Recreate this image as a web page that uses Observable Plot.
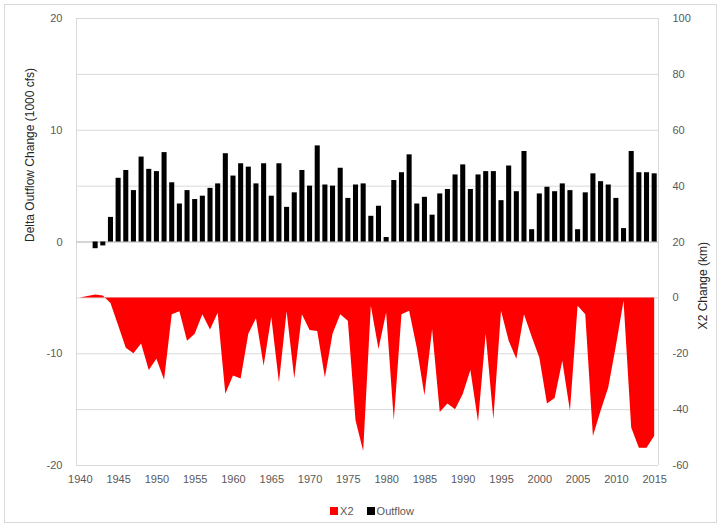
<!DOCTYPE html>
<html>
<head>
<meta charset="utf-8">
<script src="https://cdn.jsdelivr.net/npm/d3@7"></script>
<script src="https://cdn.jsdelivr.net/npm/@observablehq/plot@0.6"></script>
<style>
  html, body { margin: 0; padding: 0; background: #fff; }
  #wrap { position: relative; width: 723px; height: 529px; font-family: "Liberation Sans", Arial, sans-serif; }
  #border { position: absolute; left: 4px; top: 4px; width: 713px; height: 519px; border: 1px solid #d9d9d9; box-sizing: border-box; }
  #chart { position: absolute; left: 0; top: 0; }
  #legend { position: absolute; top: 505px; left: 0; width: 744px; text-align: center; font-size: 11px; color: #595959; }
  #legend span.sw { display: inline-block; width: 8px; height: 8px; vertical-align: -0px; margin-right: 2px; }
  #legend span.item { margin: 0 5px; }
</style>
</head>
<body>
<div id="wrap">
  <div id="border"></div>
  <div id="chart"></div>
  <div id="legend">
    <span class="item"><span class="sw" style="background:#ff0000"></span>X2</span>
    <span class="item"><span class="sw" style="background:#000"></span>Outflow</span>
  </div>
</div>
<script>
// Outflow change (1000 cfs), years 1942-2015
const outflowYears = d3.range(1942, 2016);
const outflowValues = [
  -0.6, -0.35, 2.2, 5.7, 6.4, 4.6, 7.6, 6.5, 6.3, 8.0,   // 1942-1951
  5.3, 3.4, 4.6, 3.8, 4.1, 4.8, 5.2, 7.9, 5.9, 7.0,      // 1952-1961
  6.7, 5.2, 7.0, 4.1, 7.0, 3.1, 4.4, 6.4, 5.0, 8.6,      // 1962-1971
  5.1, 5.0, 6.6, 3.9, 5.1, 5.2, 2.3, 3.2, 0.4, 5.5,      // 1972-1981
  6.2, 7.8, 3.4, 4.0, 2.4, 4.3, 4.7, 6.0, 6.9, 4.7,      // 1982-1991
  6.0, 6.3, 6.3, 3.7, 6.8, 4.5, 8.1, 1.1, 4.3, 4.9,      // 1992-2001
  4.5, 5.2, 4.6, 1.1, 4.4, 6.1, 5.4, 5.1, 3.9, 1.2,      // 2002-2011
  8.1, 6.2, 6.2, 6.1                                      // 2012-2015
];
// X2 change (km), years 1940-2015
const x2Years = d3.range(1940, 2016);
const x2Values = [
  0, 0.5, 1.0, 0.7, -2, -10, -18, -20, -16.5, -26,                 // 1940-1949
  -22, -29.5, -6, -5, -15.5, -13, -6, -11.5, -5.5, -34.5,          // 1950-1959
  -28, -29, -13, -7.5, -24.5, -7, -30.5, -5, -29, -6,              // 1960-1969
  -11.7, -12, -28.7, -13, -6, -8.4, -44, -55, -3, -18.5,           // 1970-1979
  -5.4, -44, -6, -4.8, -18, -35, -11.4, -41, -38, -40,             // 1980-1989
  -34.6, -26, -44.5, -13, -43.6, -4.8, -15.5, -22, -6, -14,        // 1990-1999
  -21.5, -38, -36, -22.7, -40.6, -3, -6, -49.6, -40.6, -32.3,      // 2000-2009
  -17.3, -1.2, -46.6, -53.8, -53.8, -49.6                          // 2010-2015
];
const xTicks = d3.range(1940, 2016, 5);
const leftTicks = [-20, -10, 0, 10, 20];
const rightTicks = [-60, -40, -20, 0, 20, 40, 60, 80, 100];
const leftTitle = "Delta Outflow Change (1000 cfs)";
const rightTitle = "X2 Change (km)";

// secondary axis (km) mapped onto primary (1000 cfs): left = (km - 20) / 4
const toLeft = km => (km - 20) / 4;

const outflow = outflowYears.map((y, i) => ({year: y, value: outflowValues[i]}));
const x2 = x2Years.map((y, i) => ({year: y, value: x2Values[i]}));

const gray = "#595959";
const chart = Plot.plot({
  width: 723,
  height: 495,
  marginLeft: 76,
  marginRight: 65,
  marginTop: 18,
  marginBottom: 30,
  style: {fontFamily: "Liberation Sans, Arial, sans-serif", fontSize: "11px", background: "transparent"},
  x: {domain: [1939.5, 2015.5]},
  y: {domain: [-20, 20]},
  marks: [
    // gridlines at secondary-axis ticks
    Plot.ruleY(rightTicks.map(toLeft), {stroke: "#d9d9d9", strokeWidth: 1}),
    Plot.ruleX([1939.5, 2015.5], {stroke: "#d9d9d9"}),
    // X2 area
    Plot.areaY(x2, {x: "year", y1: () => toLeft(0), y2: d => toLeft(d.value), fill: "#ff0000", curve: "linear"}),
    // zero line
    Plot.ruleY([0], {stroke: "#bfbfbf"}),
    // outflow bars
    Plot.rectY(outflow, {x1: d => d.year - 0.5, x2: d => d.year + 0.5, y: "value", fill: "#000", insetLeft: 1.3, insetRight: 1.3}),
    Plot.axisX(xTicks, {anchor: "bottom", tickSize: 0, tickPadding: 10, tickFormat: d => String(d), color: gray, label: null}),
    Plot.axisY(leftTicks, {anchor: "left", tickSize: 0, tickPadding: 14, color: gray, label: null, tickFormat: d => String(d)}),
    Plot.axisY(rightTicks.map(toLeft), {anchor: "right", tickSize: 0, tickPadding: 14, color: gray, label: null, tickFormat: d => String(Math.round(20 + 4 * d))}),
    Plot.text([leftTitle], {frameAnchor: "left", dx: -46, rotate: -90, fontSize: 12, fill: "#262626", text: d => d}),
    Plot.text([rightTitle], {frameAnchor: "right", dx: 45, rotate: -90, fontSize: 12, fill: "#262626", text: d => d})
  ]
});
document.getElementById("chart").appendChild(chart);
</script>
</body>
</html>
